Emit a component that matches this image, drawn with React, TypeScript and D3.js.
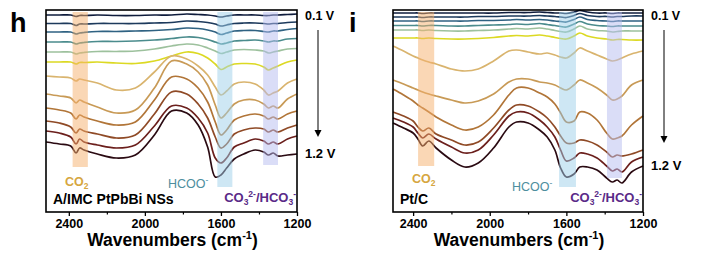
import React, { useEffect, useRef } from 'react';
import * as d3 from 'd3';

// In situ IR difference spectra, 0.1 V -> 1.2 V
// values are offsets in a.u. (larger = further down the stack)

const potentials = ['0.1 V', '0.2 V', '0.3 V', '0.4 V', '0.5 V', '0.6 V', '0.7 V', '0.8 V', '0.9 V', '1.0 V', '1.1 V', '1.2 V'];

const lineColors = [
  '#0f1c3c', '#1d3a5c', '#2f6282', '#4b8c8d', '#9dc19d', '#dcd923',
  '#d9b46e', '#c89a56', '#b17538', '#8f4a26', '#6b1f1c', '#2a0a12',
];

// panel h : A/IMC PtPbBi NSs
const wavenumbersH = [2520, 2450, 2390, 2362, 2343, 2320, 2250, 2150, 2050, 1950, 1860, 1780, 1720, 1670, 1630, 1600, 1570, 1530, 1480, 1420, 1375, 1350, 1325, 1300, 1250, 1200];
const spectraH = [
  [15, 15, 15, 16.5, 15.5, 15.5, 15, 15.5, 15.5, 15, 15, 14, 14.5, 15, 16, 17, 16, 15, 15, 15, 15.5, 15.5, 15, 15, 14.5, 14],
  [23.5, 23.5, 23.5, 25.5, 24, 24, 23.5, 23.5, 23.5, 23, 22.5, 21, 21.5, 22.5, 24, 26, 25, 23.5, 23, 23, 23.5, 24, 23.5, 23.5, 22.5, 22],
  [32, 32, 32, 34, 33, 32.5, 31.5, 31.5, 31, 30.5, 29.5, 28, 28.5, 30, 32, 34.5, 33, 31, 30.5, 30.5, 31.5, 32, 31, 31, 29.5, 28.5],
  [42, 42, 42, 44, 43, 42.5, 41.5, 41.5, 41, 40, 38.5, 37, 37.5, 39.5, 42, 44, 43, 41, 40.5, 40, 41, 42, 41, 41, 39, 38.5],
  [52, 52, 52, 54, 53, 52.5, 51.5, 51.5, 51, 49, 46, 44, 45, 48, 51, 53.5, 52, 50, 49.5, 50, 51, 53, 52, 51, 49, 48.5],
  [62, 62, 62, 64, 62.5, 62.5, 62, 63, 63.5, 61, 56, 52, 53.5, 58, 64, 69.5, 67, 64, 63.5, 64, 67, 70, 68, 66, 62, 60],
  [76, 77, 78, 81, 79, 80, 83, 90, 88, 72, 56, 59, 66, 75, 87, 95, 91, 84, 82, 84, 90, 95, 93, 91, 83, 79],
  [94, 96, 98, 103, 100, 102, 107, 113, 110, 88, 61, 64, 72, 85, 105, 118, 113, 104, 100, 100, 104, 108, 106, 108, 99, 94],
  [108, 110, 113, 119, 115, 117, 121, 125, 122, 100, 77, 79, 88, 102, 122, 135, 130, 120, 116, 114, 116, 119, 117, 119, 114, 111],
  [121, 123, 127, 133, 129, 131, 134, 138, 135, 114, 92, 94, 104, 118, 137, 148, 144, 134, 130, 128, 129, 132, 130, 132, 128, 125],
  [131, 133, 137, 144, 139, 142, 145, 148, 145, 126, 106, 108, 118, 133, 158, 163, 158, 147, 143, 139, 141, 144, 142, 144, 139, 136],
  [142, 144, 146, 153, 148, 150, 154, 158, 155, 135, 111, 113, 125, 147, 177, 175, 168, 159, 154, 150, 152, 155, 153, 156, 155, 154],
];

// panel i : Pt/C
const wavenumbersI = [2505, 2450, 2400, 2375, 2350, 2318, 2280, 2200, 2130, 2060, 1980, 1900, 1860, 1800, 1740, 1700, 1660, 1630, 1600, 1560, 1530, 1490, 1440, 1390, 1360, 1335, 1310, 1260, 1200];
const spectraI = [
  [13, 13, 13, 13, 13.5, 13, 13, 13, 13, 13, 13, 12.5, 12.5, 12.5, 12, 12.5, 13, 13, 13.5, 12, 10.5, 12, 13, 13, 13.5, 13, 13, 13, 13],
  [17, 17, 17, 17, 17.5, 17, 17, 17, 17, 16.5, 16.5, 16, 16, 16, 15.5, 16, 16.5, 17, 17.5, 15.5, 13.5, 15.5, 16.5, 16.5, 17, 16.5, 16.5, 16, 16],
  [21, 21, 21, 21, 21.5, 21, 21, 21, 21, 20.5, 20.5, 20, 19.5, 20, 19.5, 20, 21, 21.5, 22, 19.5, 17, 19.5, 20.5, 21, 21.5, 21, 21, 21, 21],
  [25.5, 25.5, 25.5, 25.5, 26, 25.5, 25.5, 26, 26, 25.5, 25, 24.5, 24, 24.5, 23.5, 24.5, 25.5, 26.5, 27, 24, 21.5, 24, 25.5, 26, 26.5, 26, 26, 26, 26],
  [30, 30, 30, 30, 30.5, 30, 30.5, 31, 31, 30.5, 30, 29, 28.5, 29, 28, 29, 30.5, 31.5, 32, 29, 26, 29, 30.5, 31, 32, 31.5, 31, 31, 31],
  [38, 38, 38, 38, 38.5, 38, 38.5, 39, 39, 38.5, 37.5, 36, 35.5, 36, 35, 36, 37.5, 38.5, 39, 36, 33, 36, 38, 39, 40, 39.5, 39.5, 40, 40],
  [46, 51, 56, 58, 60, 62, 64, 69, 71, 69, 61, 51, 50, 52, 54, 53, 55, 57, 58, 53, 48, 51, 55, 59, 61, 60, 58, 54, 51],
  [80, 84, 88, 90, 92, 94, 96, 100, 103, 101, 94, 82, 79, 79, 82, 83, 85, 88, 90, 85, 80, 83, 88, 95, 100, 99, 96, 85, 80],
  [89, 95, 101, 105, 108, 112, 117, 125, 130, 127, 115, 95, 88, 88, 93, 97, 104, 113, 122, 121, 112, 113, 120, 133, 139, 138, 136, 125, 116],
  [112, 116, 121, 127, 131, 128, 134, 140, 145, 142, 128, 110, 105, 106, 112, 118, 127, 136, 143, 143, 140, 141, 145, 152, 157, 155, 156, 154, 150],
  [118, 122, 127, 133, 138, 134, 139, 147, 153, 150, 135, 116, 112, 113, 120, 127, 137, 150, 161, 158, 153, 154, 158, 166, 171, 169, 172, 162, 157],
  [123, 128, 133, 139, 146, 141, 148, 160, 167, 163, 148, 127, 122, 123, 130, 137, 150, 168, 177, 174, 167, 167, 170, 178, 182, 180, 183, 172, 166],
];

// assigned bands: wavenumber window and how far down they reach (same a.u.)
const bandNames = ['CO2', 'HCOO', 'CO3'];
const bandFromH = [2380, 1619, 1378];
const bandToH = [2300, 1540, 1300];
const bandDepthH = [167, 187, 165];
const bandFromI = [2374, 1638, 1388];
const bandToI = [2290, 1550, 1310];
const bandDepthI = [166, 187, 178];

const majorTicks = [2400, 2000, 1600, 1200];
const minorTicks = [2200, 1800, 1400];

const bandColors = { CO2: '#f6b06c', HCOO: '#9dcfe9', CO3: '#b6bbef' };
const FONT = 'Arial, "Liberation Sans", Helvetica, sans-serif';

const drawPanel = (svg, p) => {
  const x = d3.scaleLinear().domain(p.domain).range([p.left, p.right]);
  const y = d3.scaleLinear().domain([10, 212]).range([p.top, p.bottom]);
  const g = svg.append('g');

  const line = d3.line()
    .x((d, i) => x(p.wn[i]))
    .y(d => y(d))
    .curve(d3.curveCatmullRom.alpha(0.5));

  g.selectAll('path.spec')
    .data(p.spectra)
    .join('path')
    .attr('class', 'spec')
    .attr('d', d => line(d))
    .attr('fill', 'none')
    .attr('stroke', (d, i) => lineColors[i])
    .attr('stroke-width', 1.7);

  // bands drawn over the traces (semi transparent)
  g.selectAll('rect.band')
    .data(bandNames)
    .join('rect')
    .attr('class', 'band')
    .attr('x', (d, i) => x(p.bandFrom[i]))
    .attr('width', (d, i) => x(p.bandTo[i]) - x(p.bandFrom[i]))
    .attr('y', p.top + 2)
    .attr('height', (d, i) => y(p.bandDepth[i]) - p.top - 2)
    .attr('fill', d => bandColors[d])
    .attr('opacity', 0.5);

  // frame
  g.append('rect')
    .attr('x', p.left).attr('y', p.top)
    .attr('width', p.right - p.left).attr('height', p.bottom - p.top)
    .attr('fill', 'none').attr('stroke', '#000').attr('stroke-width', 1.6);

  const ax = g.append('g')
    .attr('transform', `translate(0,${p.bottom})`)
    .call(d3.axisBottom(x).tickValues(majorTicks).tickSize(4).tickPadding(3).tickFormat(d3.format('d')));
  ax.select('.domain').remove();
  ax.selectAll('line').attr('stroke', '#000').attr('stroke-width', 1.3);
  ax.selectAll('text')
    .attr('fill', '#000')
    .style('font-family', FONT)
    .style('font-size', '12.5px')
    .style('font-weight', 'bold');

  const mn = g.append('g')
    .attr('transform', `translate(0,${p.bottom})`)
    .call(d3.axisBottom(x).tickValues(minorTicks).tickSize(2.5).tickFormat(() => ''));
  mn.select('.domain').remove();
  mn.selectAll('line').attr('stroke', '#000').attr('stroke-width', 1.2);

  // axis title
  const t = g.append('text')
    .attr('x', (p.left + p.right) / 2 + 1)
    .attr('y', 246)
    .attr('text-anchor', 'middle')
    .style('font-family', FONT)
    .style('font-size', '17.5px')
    .style('font-weight', 'bold');
  t.append('tspan').text('Wavenumbers (cm');
  t.append('tspan').attr('dy', -7).style('font-size', '11px').text('-1');
  t.append('tspan').attr('dy', 7).text(')');

  // panel letter
  g.append('text')
    .attr('x', p.letterX).attr('y', 32)
    .style('font-family', FONT).style('font-size', '27px').style('font-weight', 'bold')
    .text(p.letter);

  // potential labels and arrow
  const ag = g.append('g').style('font-family', FONT).style('font-weight', 'bold');
  ag.append('text').attr('x', p.right + 8).attr('y', 20).style('font-size', '12.5px').text(potentials[0]);
  ag.append('text').attr('x', p.right + 8).attr('y', p.endLabelY).style('font-size', '13px')
    .text(potentials[potentials.length - 1]);
  const axX = p.right + 21;
  ag.append('line').attr('x1', axX).attr('x2', axX).attr('y1', 30).attr('y2', p.arrowTip - 5)
    .attr('stroke', '#000').attr('stroke-width', 1);
  ag.append('path')
    .attr('d', `M${axX - 3.5},${p.arrowTip - 7} L${axX + 3.5},${p.arrowTip - 7} L${axX},${p.arrowTip} Z`)
    .attr('fill', '#000');

  // band labels
  const lab = g.append('g').style('font-family', FONT);
  const co2 = lab.append('text').attr('x', p.co2X).attr('y', p.co2Y)
    .attr('fill', '#d6a640').style('font-size', '12.5px').style('font-weight', 'bold');
  co2.append('tspan').text('CO');
  co2.append('tspan').attr('dy', 3).style('font-size', '8.5px').text('2');

  const hc = lab.append('text').attr('x', p.hcooX).attr('y', p.hcooY)
    .attr('fill', '#4d8e9e').style('font-size', '12.5px');
  hc.append('tspan').text('HCOO');
  hc.append('tspan').attr('dy', -5).style('font-size', '8.5px').text('-');

  const co3 = lab.append('text').attr('x', p.right - 1).attr('y', 202).attr('text-anchor', 'end')
    .attr('fill', '#5a2a88').style('font-size', '13px').style('font-weight', 'bold');
  co3.append('tspan').text('CO');
  co3.append('tspan').attr('dy', 3).style('font-size', '8.5px').text('3');
  co3.append('tspan').attr('dy', -8).style('font-size', '8.5px').text('2-');
  co3.append('tspan').attr('dy', 5).text('/HCO');
  co3.append('tspan').attr('dy', 3).style('font-size', '8.5px').text('3');
  co3.append('tspan').attr('dy', -8).style('font-size', '8.5px').text('-');

  lab.append('text').attr('x', p.left + 7).attr('y', 204)
    .style('font-size', '14px').style('font-weight', 'bold').attr('fill', '#000')
    .text(p.sample);
};

const App = () => {
  const svgRef = useRef(null);

  useEffect(() => {
    if (!svgRef.current) return;
    const svg = d3.select(svgRef.current);
    svg.selectAll('*').remove();

    drawPanel(svg, {
      left: 46, right: 297, top: 10, bottom: 212, domain: [2520, 1200],
      wn: wavenumbersH, spectra: spectraH,
      bandFrom: bandFromH, bandTo: bandToH, bandDepth: bandDepthH,
      letter: 'h', letterX: 10, sample: 'A/IMC PtPbBi NSs',
      endLabelY: 158, arrowTip: 137,
      co2X: 65, co2Y: 186, hcooX: 168, hcooY: 188,
    });

    drawPanel(svg, {
      left: 393, right: 643, top: 10, bottom: 212, domain: [2505, 1200],
      wn: wavenumbersI, spectra: spectraI,
      bandFrom: bandFromI, bandTo: bandToI, bandDepth: bandDepthI,
      letter: 'i', letterX: 349, sample: 'Pt/C',
      endLabelY: 170, arrowTip: 143,
      co2X: 412, co2Y: 183, hcooX: 512, hcooY: 191,
    });
  }, []);

  return (
    <svg ref={svgRef} width={707} height={261}
      style={{ position: 'absolute', left: 0, top: 0, background: '#fff' }} />
  );
};

export default App;
